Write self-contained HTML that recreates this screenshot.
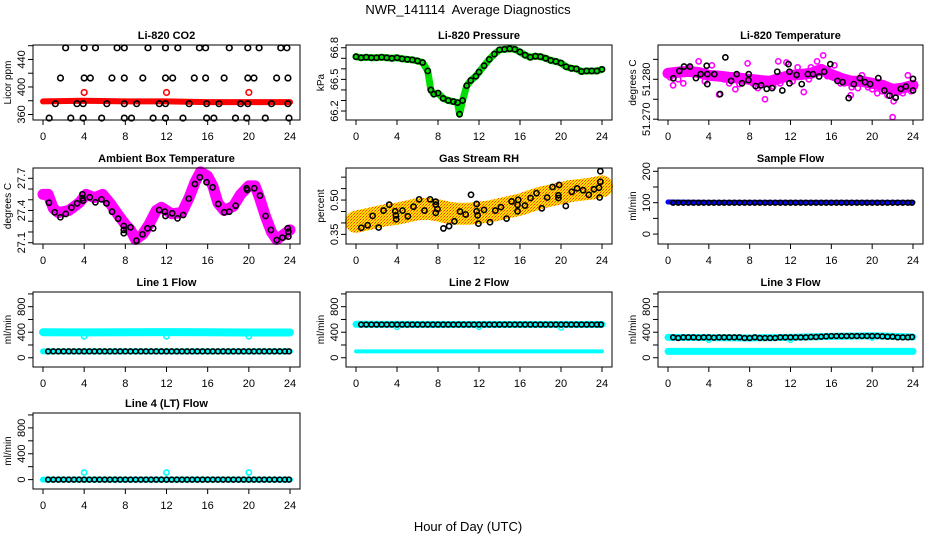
<!DOCTYPE html>
<html><head><meta charset="utf-8">
<style>
html,body{margin:0;padding:0;background:#fff;}
svg{display:block;font-family:"Liberation Sans",Arial,sans-serif;}
</style></head>
<body>
<svg id="chart" width="936" height="540" viewBox="0 0 936 540" xmlns="http://www.w3.org/2000/svg">
<defs>
<pattern id="rhpat" width="3" height="3" patternUnits="userSpaceOnUse"><rect width="3" height="3" fill="#ffe000"/><rect width="1" height="1" fill="#ff3000"/><rect x="1" y="2" width="1" height="1" fill="#ff9000"/><rect x="2" y="1" width="1" height="1" fill="#ff6000"/></pattern>
</defs>
<text x="468" y="14" text-anchor="middle" font-size="13">NWR_141114&#160; Average Diagnostics</text>
<text x="468" y="531" text-anchor="middle" font-size="13">Hour of Day (UTC)</text>
</svg>
<script>
// ---------- data ----------
const xTicks=[0,4,8,12,16,20,24];
// CO2
const co2HiH=[2.2,4.0,5.1,7.2,7.9,10.2,11.9,13.1,15.2,15.8,18.1,19.9,21.0,23.1,23.7];
const co2HiV=456.9;
const co2MidH=[1.7,4.0,4.6,6.7,7.9,9.7,11.9,12.6,14.7,15.8,17.6,19.9,20.5,22.7,23.8];
const co2MidV=413;
const co2LowH=[1.2,3.3,3.9,6.2,7.9,9.1,11.3,11.9,14.2,15.9,17.1,19.2,19.9,22.2,23.8];
const co2LowV=375.7;
const co2BotH=[0.6,2.7,3.9,5.7,7.9,8.6,10.7,11.9,13.6,15.9,16.6,18.7,19.8,21.6,23.9];
const co2BotV=354.8;
const co2RedH=[0,4,8,12,16,20,24];
const co2RedV=[379,380,379,379,378,378,378];
const co2RedPtH=[4,12,20];
const co2RedPtV=[392,392,392];
// Pressure
const presH=[0,0.5,1,1.5,2,2.5,3,3.5,4,4.5,5,5.5,6,6.5,7,7.3,7.6,8,8.5,9,9.5,9.9,10.1,10.4,10.8,11.2,11.7,12,12.5,13,13.5,14,14.5,15,15.5,16,16.5,17,17.5,18,18.5,19,19.5,20,20.5,21,21.5,22,22.5,23,23.5,24];
const presV=[66.715,66.705,66.71,66.705,66.705,66.71,66.705,66.70,66.705,66.695,66.69,66.685,66.675,66.66,66.58,66.40,66.36,66.37,66.32,66.30,66.29,66.28,66.17,66.30,66.44,66.49,66.53,66.57,66.63,66.69,66.74,66.78,66.785,66.79,66.785,66.76,66.73,66.71,66.72,66.715,66.70,66.68,66.67,66.655,66.62,66.605,66.60,66.575,66.58,66.58,66.58,66.595];
// Li-820 temperature
const tBandH=[0,1,2,3,4,5,6,7,8,9,10,11,12,13,14,15,16,17,18,19,20,21,22,23,24];
const tBandV=[51.2815,51.2818,51.2820,51.2817,51.2810,51.2808,51.2805,51.2803,51.2800,51.2797,51.2795,51.2803,51.2810,51.2812,51.2815,51.2825,51.2812,51.2802,51.2795,51.2795,51.2790,51.2785,51.2775,51.2778,51.2785];
const tOutH=[15.2,14.6,7.8,10.8,11.6,3.0,20.5,21.5,22.1,22.0,9.5,5.0,13.3,1.5,0.5,19.0,17.9,23.5,2.2,6.6,12.7,16.3,18.6,8.8,4.3,14.0,1.0,3.6,6.0,9.0,10.3,12.2,13.8,16.9,19.6,21.0,22.6,23.0,0.2,5.5,7.0,8.3,11.0,15.6,17.3,18.0,20.0,23.8];
const tOutV=[51.2860,51.2845,51.2840,51.2845,51.2842,51.2845,51.2765,51.2760,51.2745,51.2705,51.2750,51.2762,51.2768,51.2790,51.2785,51.2810,51.2760,51.2810,51.2828,51.2775,51.2830,51.2835,51.2778,51.2778,51.2835,51.2830,51.2800,51.2795,51.2790,51.2785,51.2782,51.2795,51.2800,51.2790,51.2780,51.2770,51.2768,51.2765,51.2805,51.2800,51.2788,51.2790,51.2790,51.2808,51.2790,51.2780,51.2775,51.2770];
const tPtH=[0.52,1.11,1.57,2.15,2.74,3.20,3.79,3.85,3.85,4.54,5.10,5.62,6.18,6.73,7.25,7.88,7.91,8.59,9.12,9.67,10.2,10.7,11.2,11.8,11.9,11.9,12.6,13.1,13.7,14.2,14.8,15.3,15.9,16.6,17.1,17.7,18.2,18.8,19.3,19.8,20.6,21.2,21.7,22.3,22.8,23.3,24.0,24.0];
const tPtV=[51.28025,51.2821,51.2832,51.2832,51.2803,51.2813,51.2834,51.2813,51.2788,51.2813,51.2763,51.2855,51.2796,51.2813,51.2790,51.2798,51.2813,51.2783,51.2785,51.2776,51.2778,51.2819,51.2772,51.2838,51.2819,51.2790,51.2811,51.2788,51.2813,51.2813,51.2807,51.2819,51.2838,51.2796,51.2793,51.2753,51.2788,51.2803,51.2793,51.2788,51.2803,51.2772,51.2759,51.2754,51.2776,51.2782,51.2801,51.2772];
// Ambient box temperature
const ambBandH=[0,0.5,1,1.5,2.5,3.5,4.2,5,5.8,6.5,7.3,8,8.5,9,9.7,10.3,11,11.5,12.5,13.5,14.2,14.8,15.3,16,16.5,17,17.6,18.5,19.2,20,20.6,21,21.6,22.2,22.7,23.3,24];
const ambBandV=[27.55,27.55,27.42,27.38,27.40,27.47,27.55,27.52,27.55,27.47,27.36,27.27,27.22,27.13,27.18,27.27,27.40,27.43,27.37,27.38,27.52,27.67,27.76,27.72,27.63,27.47,27.40,27.44,27.55,27.63,27.63,27.53,27.35,27.20,27.13,27.17,27.22];
const ambPtH=[0.58,1.14,1.69,2.21,2.76,3.31,3.83,3.83,3.89,4.54,5.09,5.68,6.16,6.71,7.30,7.85,7.85,7.85,8.50,9.08,9.67,10.15,10.70,11.29,11.84,11.90,12.55,13.07,13.62,14.17,14.76,15.24,15.89,16.48,17.03,17.61,18.10,18.72,19.79,19.85,20.53,21.08,21.63,22.15,22.71,23.26,23.78,23.84,23.84];
const ambPtV=[27.473,27.383,27.337,27.368,27.427,27.467,27.514,27.551,27.492,27.523,27.476,27.504,27.467,27.389,27.324,27.256,27.219,27.188,27.243,27.119,27.178,27.234,27.234,27.405,27.389,27.349,27.374,27.327,27.358,27.511,27.647,27.709,27.663,27.616,27.461,27.383,27.389,27.445,27.607,27.591,27.607,27.539,27.349,27.219,27.125,27.147,27.234,27.203,27.157];
// Gas stream RH
const rhBandH=[0,1,2,3,4,5,6,7,8,9,10,11,12,13,14,15,16,17,18,19,20,21,22,23,24];
const rhBandV=[0.405,0.415,0.425,0.435,0.44,0.45,0.46,0.462,0.455,0.445,0.44,0.44,0.445,0.45,0.46,0.47,0.48,0.495,0.51,0.52,0.53,0.54,0.545,0.55,0.56];
const rhPtH=[0.52,1.14,1.62,2.21,2.69,3.24,3.83,3.89,3.92,4.54,5.06,5.61,6.16,6.68,7.23,7.78,7.78,7.78,7.95,8.53,9.08,9.60,10.15,10.70,11.22,11.77,11.77,11.87,11.94,12.49,13.07,13.59,14.14,14.69,15.18,15.76,15.76,15.83,16.48,17.03,17.61,18.13,18.65,19.17,19.75,19.75,19.82,20.47,21.05,21.57,22.15,22.71,23.22,23.71,23.77,23.84,23.84];
const rhPtV=[0.379,0.390,0.431,0.380,0.454,0.480,0.451,0.433,0.416,0.454,0.429,0.471,0.503,0.454,0.503,0.493,0.480,0.444,0.461,0.376,0.386,0.407,0.450,0.437,0.523,0.451,0.483,0.433,0.397,0.457,0.403,0.454,0.469,0.419,0.494,0.479,0.451,0.501,0.476,0.509,0.530,0.464,0.511,0.557,0.521,0.509,0.566,0.474,0.536,0.551,0.543,0.523,0.547,0.554,0.511,0.580,0.626];
// Flow sample times (shared)
const flowH=[0.5,1,1.5,2,2.5,3,3.5,4,4.5,5,5.5,6,6.5,7,7.5,8,8.5,9,9.5,10,10.5,11,11.5,12,12.5,13,13.5,14,14.5,15,15.5,16,16.5,17,17.5,18,18.5,19,19.5,20,20.5,21,21.5,22,22.5,23,23.5,23.9];
const bandH=[0,4,8,12,16,20,24];
// Sample flow
const sampleV=[100,100,100,100,100,100,100,100,100,100,100,100,100,100,100,100,100,100,100,100,100,100,100,100,100,100,100,100,100,100,100,100,100,100,100,100,100,100,100,100,100,100,100,100,100,100,100,100];
const sampleBand=[102,101,101,101,101,101,101];
// Line 1
const line1Black=[100,100,100,100,100,100,100,100,100,100,100,100,100,100,100,100,100,100,100,100,100,100,100,100,100,100,100,100,100,100,100,100,100,100,100,100,100,100,100,100,100,100,100,100,100,100,100,100];
const line1Upper=[400,398,400,402,400,395,396];
const line1Lower=[100,100,100,100,100,100,100];
const line1DipH=[4,12,20];
const line1DipV=[335,335,335];
// Line 2
const line2Black=[520,520,520,520,520,520,520,520,520,520,520,520,520,520,520,520,520,520,520,520,520,520,520,520,520,520,520,520,520,520,520,520,520,520,520,520,520,520,520,520,520,520,520,520,520,520,520,520];
const line2Upper=[525,522,521,521,520,520,520];
const line2Lower=[100,100,100,100,100,100,100];
const line2DipH=[4,12,20];
const line2DipV=[480,480,470];
// Line 3
const line3Black=[320,310,320,320,320,315,320,320,315,320,320,320,320,320,310,310,320,310,310,310,310,320,320,320,320,320,320,325,325,330,335,340,340,340,340,340,340,340,340,340,340,335,330,330,320,320,320,325];
const line3Upper=[320,315,310,320,335,345,325];
const line3Lower=[100,100,100,100,100,100,100];
const line3DipH=[4,12,20];
const line3DipV=[280,280,310];
// Line 4
const line4Black=[0,0,0,0,0,0,0,0,0,0,0,0,0,0,0,0,0,0,0,0,0,0,0,0,0,0,0,0,0,0,0,0,0,0,0,0,0,0,0,0,0,0,0,0,0,0,0,0];
const line4Lower=[0,0,0,0,0,0,0];
const line4DipH=[4,12,20];
const line4DipV=[110,110,110];

// ---------- layout ----------
const svg=document.getElementById('chart');
const NS='http://www.w3.org/2000/svg';
const cols=[{l:33,r:300,x0:43,x24:290},{l:346,r:612,x0:356,x24:602},{l:658,r:923,x0:668,x24:913}];
const rows=[{t:45,b:120},{t:168,b:244},{t:292,b:367},{t:413,b:489}];
function mk(tag,parent){const e=document.createElementNS(NS,tag);parent.appendChild(e);return e;}

function panel(ci,ri,name,title,ylab,ymin,ymax,ticks,labels){
  const c=cols[ci],r=rows[ri];
  const g=mk('g',svg);
  
  
  const sx=h=>c.x0+(h/24)*(c.x24-c.x0);
  const sy=v=>r.b-(v-ymin)/(ymax-ymin)*(r.b-r.t);
  const plot=mk('g',g);
  
  
  const p={g,plot,sx,sy,c,r,name};
  const t=mk('text',g);
  
  
  t.setAttribute('x',(c.l+c.r)/2);t.setAttribute('y',r.t-6);
  t.setAttribute('text-anchor','middle');t.setAttribute('font-size','11');t.setAttribute('font-weight','bold');
  t.textContent=title;
  p.finish=function(){
    const b=mk('rect',g);
    
    
    b.setAttribute('x',c.l);b.setAttribute('y',r.t);b.setAttribute('width',c.r-c.l);b.setAttribute('height',r.b-r.t);
    b.setAttribute('fill','none');b.setAttribute('stroke','#000');b.setAttribute('stroke-width','1');
    const xa=mk('g',g);
    
    
    xTicks.forEach(v=>{
      const l=mk('line',xa);
      
      
      l.setAttribute('x1',sx(v));l.setAttribute('x2',sx(v));l.setAttribute('y1',r.b);l.setAttribute('y2',r.b+5);l.setAttribute('stroke','#000');
      const tx=mk('text',xa);
      
      
      tx.setAttribute('x',sx(v));tx.setAttribute('y',r.b+20);tx.setAttribute('text-anchor','middle');tx.setAttribute('font-size','11');
      tx.textContent=v;
    });
    const ya=mk('g',g);
    
    
    ticks.forEach((v,i)=>{
      const y=sy(v);
      const l=mk('line',ya);
      
      
      l.setAttribute('x1',c.l);l.setAttribute('x2',c.l-5);l.setAttribute('y1',y);l.setAttribute('y2',y);l.setAttribute('stroke','#000');
      if(labels[i]!==''){
        const tx=mk('text',ya);
        
        
        tx.setAttribute('transform','translate('+(c.l-8)+','+y+') rotate(-90)');
        tx.setAttribute('text-anchor','middle');tx.setAttribute('font-size','11');
        tx.textContent=labels[i];
      }
    });
    const yl=mk('text',g);
    
    
    yl.setAttribute('transform','translate('+(c.l-22)+','+((r.t+r.b)/2)+') rotate(-90)');
    yl.setAttribute('text-anchor','middle');yl.setAttribute('font-size','10');
    yl.textContent=ylab;
  };
  return p;
}
function band(p,hs,vs,color,w,nm){
  const pl=mk('polyline',p.plot);
  
  
  pl.setAttribute('points',hs.map((h,i)=>p.sx(h)+','+p.sy(vs[i])).join(' '));
  pl.setAttribute('fill','none');pl.setAttribute('stroke',color);pl.setAttribute('stroke-width',w);
  pl.setAttribute('stroke-linejoin','round');pl.setAttribute('stroke-linecap','round');
}
function pts(p,hs,vs,color,rad,sw,nm){
  hs.forEach((h,i)=>{
    const v=Array.isArray(vs)?vs[i]:vs;
    const ci=mk('circle',p.plot);
    
    
    ci.setAttribute('cx',p.sx(h));ci.setAttribute('cy',p.sy(v));ci.setAttribute('r',rad);
    ci.setAttribute('fill','none');ci.setAttribute('stroke',color);ci.setAttribute('stroke-width',sw);
  });
}
const flowTicks=[0,200,400,600,800,1000],flowLabels=['0','','400','','800',''];

let p=panel(0,0,'co2','Li-820 CO2','Licor ppm',352,461,[360,380,400,420,440,460],['360','','400','','440','']);
band(p,co2RedH,co2RedV,'#ff0000',6,'co2-red-band');
pts(p,co2RedPtH,co2RedPtV,'#ff0000',2.8,1.6,'co2-red-point');
pts(p,co2HiH,co2HiV,'#000',2.8,1.6,'co2-point');
pts(p,co2MidH,co2MidV,'#000',2.8,1.6,'co2-point');
pts(p,co2LowH,co2LowV,'#000',2.8,1.6,'co2-point');
pts(p,co2BotH,co2BotV,'#000',2.8,1.6,'co2-point');
p.finish();
p=panel(1,0,'pressure','Li-820 Pressure','kPa',66.115,66.826,[66.2,66.3,66.4,66.5,66.6,66.7,66.8],['66.2','','','66.5','','','66.8']);
band(p,presH,presV,'#00dd00',7,'pressure-green-band');
pts(p,presH,presV,'#000',2.6,1.6,'pressure-point');
p.finish();
p=panel(2,0,'li820-temp','Li-820 Temperature','degrees C',51.2698,51.2886,[51.270,51.275,51.280,51.285],['51.270','','51.280','']);
band(p,tBandH,tBandV,'#ff00ff',11,'temp-magenta-band');
pts(p,tOutH,tOutV,'#ff00ff',2.6,1.6,'temp-magenta-point');
pts(p,tPtH,tPtV,'#000',2.6,1.6,'temp-point');
p.finish();
p=panel(0,1,'ambient','Ambient Box Temperature','degrees C',27.088,27.796,[27.1,27.2,27.3,27.4,27.5,27.6,27.7],['27.1','','','27.4','','','27.7']);
band(p,ambBandH,ambBandV,'#ff00ff',11,'ambient-magenta-band');
pts(p,ambPtH,ambPtV,'#000',2.6,1.6,'ambient-point');
p.finish();
p=panel(1,1,'rh','Gas Stream RH','percent',0.308,0.64,[0.35,0.40,0.45,0.50,0.55,0.60],['0.35','','','0.50','','']);
band(p,rhBandH,rhBandV,'url(#rhpat)',22,'rh-orange-band');
pts(p,rhPtH,rhPtV,'#000',2.6,1.6,'rh-point');
p.finish();
p=panel(2,1,'sample-flow','Sample Flow','ml/min',-31.6,210.5,[0,50,100,150,200],['0','','100','','200']);
band(p,bandH,sampleBand,'#0000ff',5,'sample-blue-band');
pts(p,flowH,sampleV,'#000',2.4,1.6,'sample-point');
p.finish();
p=panel(0,2,'line1','Line 1 Flow','ml/min',-145,1030,flowTicks,flowLabels);
band(p,bandH,line1Upper,'#00ffff',8,'line1-upper-band');
band(p,bandH,line1Lower,'#00ffff',6,'line1-lower-band');
pts(p,line1DipH,line1DipV,'#00ffff',2.6,1.6,'line1-dip-point');
pts(p,flowH,line1Black,'#000',2.4,1.6,'line1-point');
p.finish();
p=panel(1,2,'line2','Line 2 Flow','ml/min',-145,1030,flowTicks,flowLabels);
band(p,bandH,line2Upper,'#00ffff',7,'line2-upper-band');
band(p,bandH,line2Lower,'#00ffff',4,'line2-lower-band');
pts(p,line2DipH,line2DipV,'#00ffff',2.4,1.4,'line2-dip-point');
pts(p,flowH,line2Black,'#000',2.4,1.6,'line2-point');
p.finish();
p=panel(2,2,'line3','Line 3 Flow','ml/min',-145,1030,flowTicks,flowLabels);
band(p,bandH,line3Upper,'#00ffff',7,'line3-upper-band');
band(p,bandH,line3Lower,'#00ffff',7,'line3-lower-band');
pts(p,line3DipH,line3DipV,'#00ffff',2.4,1.4,'line3-dip-point');
pts(p,flowH,line3Black,'#000',2.4,1.6,'line3-point');
p.finish();
p=panel(0,3,'line4','Line 4 (LT) Flow','ml/min',-145,1030,flowTicks,flowLabels);
band(p,bandH,line4Lower,'#00ffff',6,'line4-band');
pts(p,line4DipH,line4DipV,'#00ffff',2.6,1.6,'line4-dip-point');
pts(p,flowH,line4Black,'#000',2.4,1.6,'line4-point');
p.finish();
</script>
</body></html>
